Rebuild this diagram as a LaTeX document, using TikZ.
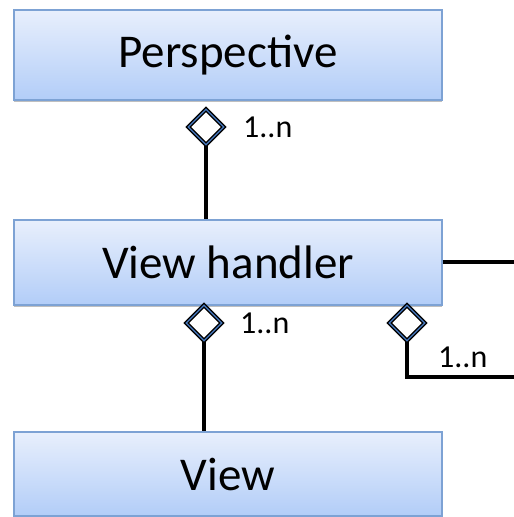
\documentclass[tikz,border=0pt]{standalone}
\usepackage{fontspec}
\setmainfont{Carlito}
\usetikzlibrary{shapes.geometric,shadows}
\definecolor{boxtop}{RGB}{232,239,252}
\definecolor{boxbot}{RGB}{178,205,248}
\definecolor{boxedge}{RGB}{125,162,212}
\definecolor{diamblue}{RGB}{70,120,190}
\begin{document}
\begin{tikzpicture}[x=1pt,y=1pt,
  classbox/.style={rectangle, minimum width=428pt, inner sep=0pt, top color=boxtop, bottom color=boxbot, draw=boxedge, line width=1.2pt, font=\fontsize{47}{54}\selectfont, drop shadow={shadow xshift=0pt, shadow yshift=-2.5pt, opacity=0.25, fill=black}},
  agg/.style={diamond, aspect=1, minimum width=36pt, minimum height=36pt, inner sep=0pt, fill=white, draw=black, line width=1.4pt, double=diamblue, double distance=1.2pt},
  link/.style={line width=4pt, draw=black},
  mult/.style={font=\fontsize{32}{36}\selectfont, inner sep=0pt}
]
\useasboundingbox (0,0) rectangle (514,517);
\node[classbox, minimum height=90pt] (persp) at (228,462) {\raisebox{-3pt}{Perspective}};
\node[classbox, minimum height=85pt] (vh) at (228,254.5) {View handler};
\node[classbox, minimum height=84pt] (view) at (228,43) {\raisebox{-2pt}{View}};

\node[agg] (d1) at (206,390) {};
\node[agg] (d2) at (204,194) {};
\node[agg] (d3) at (407,194) {};

\draw[link] (d1.south) -- (d1.south |- vh.north);
\draw[link] (d2.south) -- (d2.south |- view.north);
\coordinate (r1) at (516,255);
\coordinate (r2) at (516,140);
\draw[link] (vh.east |- r1) -- (r1);
\draw[link] (d3.south) |- (r2);

\node[mult, anchor=west] (m1) at (243,390) {1..n};
\node[mult, anchor=west] (m2) at (240,194) {1..n};
\node[mult, anchor=west] (m3) at (438,160) {1..n};
\end{tikzpicture}
\end{document}
